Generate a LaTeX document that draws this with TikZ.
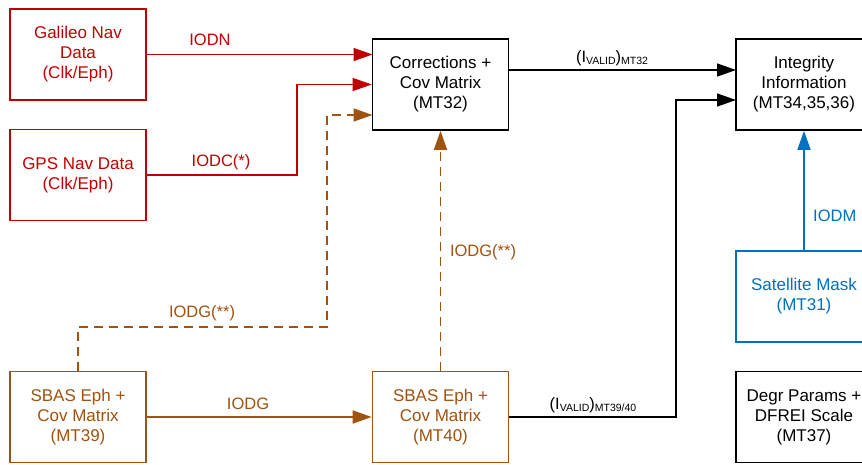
\documentclass[tikz,border=0pt]{standalone}
\usepackage{fontspec}
\setmainfont{Liberation Sans}
\usetikzlibrary{arrows.meta}
\definecolor{cred}{RGB}{192,0,0}
\definecolor{cbrown}{RGB}{160,82,16}
\definecolor{cblue}{RGB}{0,112,192}
\newcommand\ivsub[1]{(I\raisebox{-2.5pt}{\fontsize{10.5}{10.5}\selectfont VALID})\raisebox{-2.5pt}{\fontsize{10.5}{10.5}\selectfont #1}}
\begin{document}
\begin{tikzpicture}[x=1pt,y=-1pt,
  box/.style={draw,line width=1.6pt,minimum width=136pt,minimum height=91pt,align=center,inner sep=0pt,font=\fontsize{17}{20}\selectfont},
  lbl/.style={font=\fontsize{16.5}{20}\selectfont,inner sep=0pt},
  conn/.style={line width=1.5pt,-{Triangle[length=19pt,width=13pt]}},
  dsh/.style={dash pattern=on 9pt off 6pt}]
\clip (0,0) rectangle (862,464);
\fill[white] (0,0) rectangle (862,464);
% boxes
\node[box,cred] (gal) at (78,54.5) {Galileo Nav\\Data\\(Clk/Eph)};
\node[box,cred] (gps) at (78,175) {GPS Nav Data\\(Clk/Eph)};
\node[box] (corr) at (440.5,84.5) {Corrections +\\Cov Matrix\\(MT32)};
\node[box] (integ) at (804,84.5) {Integrity\\Information\\(MT34,35,36)};
\node[box,cblue] (mask) at (804,296.5) {Satellite Mask\\(MT31)};
\node[box] (degr) at (804,417) {Degr Params +\\DFREI Scale\\(MT37)};
\node[box,cbrown] (mt39) at (78,417) {SBAS Eph +\\Cov Matrix\\(MT39)};
\node[box,cbrown] (mt40) at (440.5,417) {SBAS Eph +\\Cov Matrix\\(MT40)};
% coordinates
\coordinate (k1) at (297,175);
\coordinate (k1t) at (297,84.5);
\coordinate (d1) at (78,327);
\coordinate (d2) at (327,327);
\coordinate (d3) at (327,115);
\coordinate (d4) at (372.5,115);
\coordinate (g2) at (372.5,54.5);
\coordinate (c1) at (509,70);
\coordinate (c2) at (736,70);
\coordinate (v1) at (676,417);
\coordinate (v2) at (676,100);
\coordinate (v3) at (736,100);
% connectors
\draw[conn,cred] (gal.east) -- (g2);
\draw[conn,cred] (gps.east) -- (k1) -- (k1t) -- (corr.west);
\draw[conn,cbrown,dsh] (mt39.north) -- (d1) -- (d2) -- (d3) -- (d4);
\draw[conn,cbrown,dsh] (mt40.north) -- (corr.south);
\draw[conn,cbrown] (mt39.east) -- (mt40.west);
\draw[conn] (c1) -- (c2);
\draw[conn] (mt40.east) -- (v1) -- (v2) -- (v3);
\draw[conn,cblue] (mask.north) -- (integ.south);
% labels
\node[lbl,cred] (lIODN) at (210,40) {IODN};
\node[lbl,cred] (lIODC) at (221,162) {IODC(*)};
\node[lbl] (lv32) at (612,58) {\ivsub{MT32}};
\node[lbl,cbrown] (lg1) at (483,252) {IODG(**)};
\node[lbl,cbrown] (lg2) at (202,313) {IODG(**)};
\node[lbl,cbrown] (lg3) at (248,404) {IODG};
\node[lbl] (lv40) at (593,405) {\ivsub{MT39/40}};
\node[lbl,cblue,anchor=west] (lm) at (813,216) {IODM};
\end{tikzpicture}
\end{document}
